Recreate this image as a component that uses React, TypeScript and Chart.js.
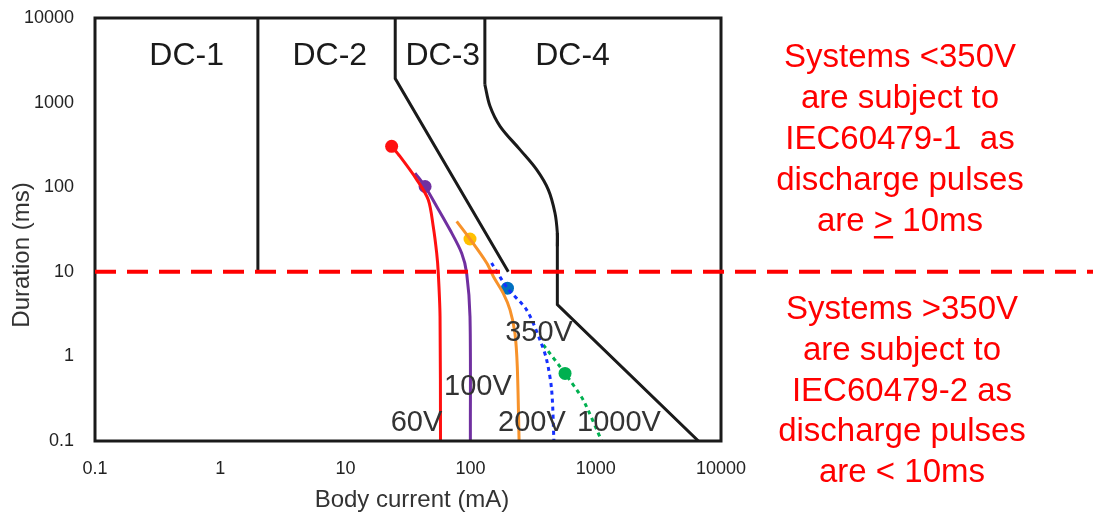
import React, { useEffect, useRef } from "react";
import { Chart, registerables } from "chart.js";

Chart.register(...registerables);

// Axis ticks (decades)
const xTicks = [0.1, 1, 10, 100, 1000, 10000];
const yTicks = [0.1, 1, 10, 100, 1000, 10000];
const splitY = 10; // 10 ms divider

// Zone boundaries (body current mA, duration ms)
const bndAX = [2, 2];
const bndAY = [10000, 10];
const bndBX = [25, 25, 200];
const bndBY = [10000, 1920, 10];
const bndCTopX = [130, 130];
const bndCTopY = [10000, 1630];
const bndCCurveX = [130, 143, 172, 248, 337, 418, 472, 493, 493];
const bndCCurveY = [1630, 904, 525, 278, 161, 93, 49.5, 28.7, 20];
const bndCLowX = [493, 493, 6600];
const bndCLowY = [28.7, 4.1, 0.1];

// Voltage curves
const v60X = [23.4, 27.3, 37.1, 45.9, 50.3, 53.6, 55.2, 57, 57.5];
const v60Y = [304, 231, 123, 71, 34.4, 16.6, 9.66, 2.96, 0.1];
const v100X = [36, 43.3, 53.6, 68.4, 84.9, 93, 98.9, 99.6];
const v100Y = [147, 102, 59.3, 31.4, 16.6, 9.66, 2.96, 0.1];
const v200X = [77.4, 98.9, 134.5, 152, 182, 206.5, 226, 236, 244];
const v200Y = [39.4, 24.4, 12.7, 8.8, 5.6, 3.55, 1.88, 0.757, 0.1];
const v350X = [147, 197, 280, 358, 405, 444, 463];
const v350Y = [12.7, 6.4, 3.55, 1.57, 0.91, 0.4, 0.1];
const v1000X = [381, 568, 794, 1114];
const v1000Y = [1.37, 0.63, 0.305, 0.1];

// Marker dots
const dotX = [23.4, 43.3, 98.9, 197, 568];
const dotY = [304, 102, 24.4, 6.4, 0.63];
const dotColors = ["#FF1010", "#7030A0", "#FFC000", "#0070C0", "#00B050"];

// In-plot labels (anchored in data space)
const zoneLabels = ["DC-1", "DC-2", "DC-3", "DC-4"];
const zoneLabelX = [0.54, 7.5, 60, 652];
const zoneLabelY = [3500, 3500, 3500, 3500];
const voltLabels = ["60V", "100V", "200V", "1000V", "350V"];
const voltLabelX = [37, 114.5, 309, 1531, 352];
const voltLabelY = [0.163, 0.44, 0.163, 0.163, 1.9];

// Side notes
const upperNote = ["Systems <350V", "are subject to", "IEC60479-1  as", "discharge pulses", "are > 10ms"];
const lowerNote = ["Systems >350V", "are subject to", "IEC60479-2 as", "discharge pulses", "are < 10ms"];

const xTitle = "Body current (mA)";
const yTitle = "Duration (ms)";

const FONT = '"Liberation Sans", Arial, sans-serif';

const pts = (xs: number[], ys: number[]) => xs.map((x, i) => ({ x, y: ys[i] }));

const overlay = {
  id: "overlay",
  afterDatasetsDraw(chart: any) {
    const { ctx, chartArea: a, scales } = chart;
    const xs = scales.x;
    const ys = scales.y;
    ctx.save();
    // frame
    ctx.strokeStyle = "#1a1a1a";
    ctx.lineWidth = 3;
    ctx.setLineDash([]);
    ctx.strokeRect(a.left, a.top, a.right - a.left, a.bottom - a.top);

    // red dashed divider
    const yy = ys.getPixelForValue(splitY);
    ctx.strokeStyle = "#FF0000";
    ctx.lineWidth = 4;
    ctx.setLineDash([21, 11]);
    ctx.beginPath();
    ctx.moveTo(a.left, yy);
    ctx.lineTo(chart.width, yy);
    ctx.stroke();
    ctx.setLineDash([]);

    // zone labels
    ctx.fillStyle = "#1a1a1a";
    ctx.textAlign = "center";
    ctx.textBaseline = "middle";
    ctx.font = "32px " + FONT;
    zoneLabels.forEach((t, i) => {
      ctx.fillText(t, xs.getPixelForValue(zoneLabelX[i]), ys.getPixelForValue(zoneLabelY[i]));
    });
    ctx.fillStyle = "#333333";
    ctx.font = "29px " + FONT;
    voltLabels.forEach((t, i) => {
      ctx.fillText(t, xs.getPixelForValue(voltLabelX[i]), ys.getPixelForValue(voltLabelY[i]));
    });

    // axis titles
    ctx.fillStyle = "#333333";
    ctx.font = "24px " + FONT;
    ctx.fillText(xTitle, (a.left + a.right) / 2 + 4, 500);
    ctx.save();
    ctx.translate(22, 255);
    ctx.rotate(-Math.PI / 2);
    ctx.fillText(yTitle, 0, 0);
    ctx.restore();

    // side notes
    ctx.fillStyle = "#FF0000";
    ctx.font = "33px " + FONT;
    const cx = 900;
    upperNote.forEach((t, i) => {
      const y = 58 + i * 41;
      ctx.fillText(t, cx, y);
      if (i === upperNote.length - 1) {
        const w = ctx.measureText(t).width;
        const idx = t.indexOf(">");
        const pre = ctx.measureText(t.slice(0, idx)).width;
        const gw = ctx.measureText(">").width;
        const x0 = cx - w / 2 + pre;
        ctx.fillRect(x0, y + 14, gw, 2.5);
      }
    });
    lowerNote.forEach((t, i) => {
      ctx.fillText(t, cx + 2, 310 + i * 40.8);
    });
    ctx.restore();
  },
};

export default function App() {
  const ref = useRef<HTMLCanvasElement>(null);
  useEffect(() => {
    if (!ref.current) return;
    const black = "#1a1a1a";
    const line = (data: any, color: string, extra: any = {}) => ({
      data,
      showLine: true,
      borderColor: color,
      backgroundColor: color,
      borderWidth: 3,
      pointRadius: 0,
      tension: 0,
      ...extra,
    });
    const chart = new Chart(ref.current, {
      type: "scatter",
      data: {
        datasets: [
          line(pts(bndAX, bndAY), black),
          line(pts(bndBX, bndBY), black),
          line(pts(bndCTopX, bndCTopY), black),
          line(pts(bndCCurveX, bndCCurveY), black, { tension: 0.35 }),
          line(pts(bndCLowX, bndCLowY), black),
          line(pts(v60X, v60Y), "#FF1010", { tension: 0.3 }),
          line(pts(v100X, v100Y), "#7030A0", { tension: 0.3 }),
          line(pts(v200X, v200Y), "#F7922A", { tension: 0.3 }),
          line(pts(v350X, v350Y), "#1530FF", { tension: 0.3, borderDash: [4, 4] }),
          line(pts(v1000X, v1000Y), "#00B050", { tension: 0.2, borderDash: [4, 4] }),
          {
            data: pts(dotX, dotY),
            showLine: false,
            pointRadius: 6.5,
            pointBorderWidth: 0,
            pointBackgroundColor: dotColors,
            backgroundColor: dotColors,
          },
        ],
      },
      options: {
        animation: false,
        responsive: false,
        layout: { padding: { top: 18, right: 372, left: 0, bottom: 0 } },
        plugins: { legend: { display: false }, tooltip: { enabled: false } },
        scales: {
          x: {
            type: "logarithmic",
            min: 0.1,
            max: 10000,
            grid: { display: false, drawTicks: false },
            border: { display: false },
            afterBuildTicks: (s: any) => {
              s.ticks = xTicks.map((v) => ({ value: v }));
            },
            afterFit: (s: any) => {
              s.height = 75;
              s.paddingLeft = 0;
              s.paddingRight = 0;
            },
            ticks: {
              autoSkip: false,
              maxRotation: 0,
              padding: 17,
              color: "#222222",
              font: { family: FONT, size: 18 },
              callback: (v: any) => String(v),
            },
          },
          y: {
            type: "logarithmic",
            min: 0.1,
            max: 10000,
            grid: { display: false, drawTicks: false },
            border: { display: false },
            afterBuildTicks: (s: any) => {
              s.ticks = yTicks.map((v) => ({ value: v }));
            },
            afterFit: (s: any) => {
              s.width = 95;
              s.paddingTop = 0;
              s.paddingBottom = 0;
            },
            ticks: {
              autoSkip: false,
              padding: 21,
              color: "#222222",
              font: { family: FONT, size: 18 },
              callback: (v: any) => String(v),
            },
          },
        },
      } as any,
      plugins: [overlay],
    });
    return () => chart.destroy();
  }, []);
  return (
    <canvas
      ref={ref}
      width={1093}
      height={516}
      style={{ position: "fixed", left: 0, top: 0, display: "block", background: "#fff" }}
    />
  );
}
